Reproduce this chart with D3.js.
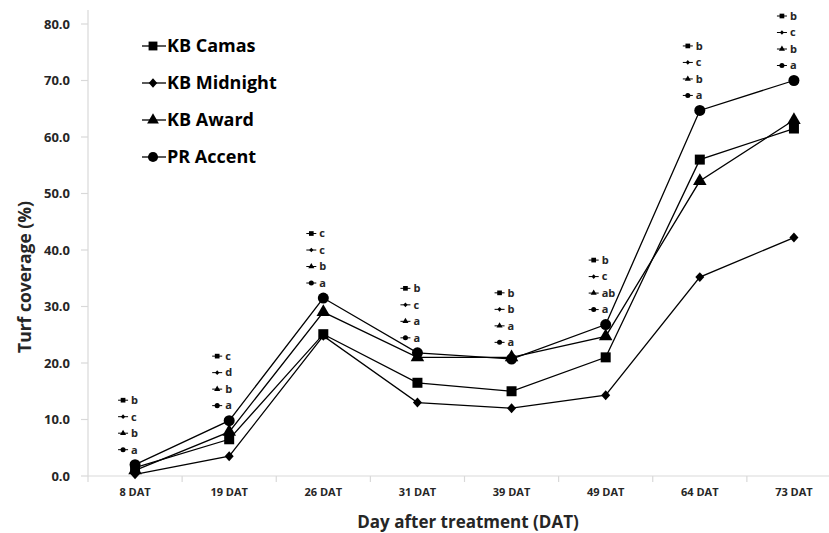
<!DOCTYPE html>
<html>
<head>
<meta charset="utf-8">
<script src="https://cdn.jsdelivr.net/npm/d3@7"></script>
<style>
  html, body { margin: 0; padding: 0; background: #fff; }
  svg { display: block; font-family: "Open Sans", "DejaVu Sans", sans-serif; }
</style>
</head>
<body>
<svg id="chart" width="829" height="533"></svg>
<script>
// ---- data ----
const categories = ["8 DAT", "19 DAT", "26 DAT", "31 DAT", "39 DAT", "49 DAT", "64 DAT", "73 DAT"];
const seriesNames = ["KB Camas", "KB Midnight", "KB Award", "PR Accent"];
const kbCamas    = [1.5, 6.5, 25.1, 16.5, 15.0, 21.0, 56.0, 61.5];
const kbMidnight = [0.3, 3.5, 24.8, 13.0, 12.0, 14.3, 35.2, 42.2];
const kbAward    = [1.0, 7.8, 29.0, 21.0, 21.0, 24.7, 52.2, 63.0];
const prAccent   = [2.0, 9.8, 31.5, 21.8, 20.7, 26.8, 64.7, 70.0];
// significance letters per category, in series order
const letters = [
  ["b", "c", "b", "a"],
  ["c", "d", "b", "a"],
  ["c", "c", "b", "a"],
  ["b", "c", "a", "a"],
  ["b", "b", "a", "a"],
  ["b", "c", "ab", "a"],
  ["b", "c", "b", "a"],
  ["b", "c", "b", "a"]
];
const yTicks = [0, 10, 20, 30, 40, 50, 60, 70, 80];
const seriesValues = [kbCamas, kbMidnight, kbAward, prAccent];

// ---- layout ----
const svg = d3.select("#chart");
const x = d3.scaleBand().domain(categories).range([88, 841]).padding(0);
const y = d3.scaleLinear().domain([0, 80]).range([476, 24]);
const cx = c => x(c) + x.bandwidth() / 2;

// wider diamond than d3's default
const symbolWideDiamond = {
  draw(context, size) {
    const r = Math.sqrt(size / 2);
    const w = r * 0.95, h = r * 1.05;
    context.moveTo(0, -h);
    context.lineTo(w, 0);
    context.lineTo(0, h);
    context.lineTo(-w, 0);
    context.closePath();
  }
};

const symbols = [d3.symbolSquare, symbolWideDiamond, d3.symbolTriangle, d3.symbolCircle];
const plotSizes = [100, 45, 80, 95];
const legendSizes = [78, 40, 60, 80];
const miniSizes = [22, 10, 16, 20];
const axisColor = "#d9d9d9";
const textColor = "#262626";

// ---- y axis ----
const yAxis = svg.append("g");
yAxis.append("line").attr("x1", 88).attr("x2", 88).attr("y1", 10).attr("y2", y(0))
  .attr("stroke", axisColor).attr("stroke-width", 1.2);
yAxis.selectAll("line.tick").data(yTicks).join("line").attr("class", "tick")
  .attr("x1", 81).attr("x2", 88).attr("y1", d => y(d)).attr("y2", d => y(d))
  .attr("stroke", axisColor).attr("stroke-width", 1.2);
yAxis.selectAll("text").data(yTicks).join("text")
  .attr("x", 70).attr("y", d => y(d)).attr("dy", "0.36em")
  .attr("text-anchor", "end").attr("font-size", 13).attr("font-weight", "bold")
  .attr("fill", textColor).text(d => d.toFixed(1));

// ---- x axis ----
const xAxis = svg.append("g");
xAxis.append("line").attr("x1", 88).attr("x2", 841).attr("y1", y(0)).attr("y2", y(0))
  .attr("stroke", axisColor).attr("stroke-width", 1.2);
xAxis.selectAll("line.tick").data(categories).join("line").attr("class", "tick")
  .attr("x1", d => x(d)).attr("x2", d => x(d)).attr("y1", y(0)).attr("y2", y(0) + 6)
  .attr("stroke", axisColor).attr("stroke-width", 1.2);
xAxis.selectAll("text").data(categories).join("text")
  .attr("x", d => cx(d)).attr("y", 496)
  .attr("text-anchor", "middle").attr("font-size", 11).attr("font-weight", "bold")
  .attr("fill", textColor).text(d => d);

// ---- titles ----
svg.append("text").attr("transform", "translate(31,277) rotate(-90)")
  .attr("text-anchor", "middle").attr("font-size", 17.5).attr("font-weight", "bold")
  .attr("fill", textColor).text("Turf coverage (%)");
svg.append("text").attr("x", 468).attr("y", 528)
  .attr("text-anchor", "middle").attr("font-size", 17).attr("font-weight", "bold")
  .attr("fill", textColor).text("Day after treatment (DAT)");

// ---- lines ----
const line = d3.line().x((d, i) => cx(categories[i])).y(d => y(d));
seriesValues.forEach(vals => {
  svg.append("path").attr("d", line(vals)).attr("fill", "none")
    .attr("stroke", "#000").attr("stroke-width", 1.3);
});
seriesValues.forEach((vals, s) => {
  svg.append("g").selectAll("path").data(vals).join("path")
    .attr("transform", (d, i) => `translate(${cx(categories[i])},${y(d)})`)
    .attr("d", d3.symbol().type(symbols[s]).size(plotSizes[s]))
    .attr("fill", "#000");
});

// ---- significance letter groups ----
categories.forEach((c, i) => {
  const maxV = d3.max(seriesValues, v => v[i]);
  const baseY = y(maxV) - 15;
  const mx = cx(c) - 12;
  letters[i].forEach((lt, s) => {
    const ry = baseY - (3 - s) * 16.5;
    const g = svg.append("g");
    g.append("line").attr("x1", mx - 5).attr("x2", mx + 5).attr("y1", ry).attr("y2", ry)
      .attr("stroke", "#000").attr("stroke-width", 1);
    g.append("path").attr("transform", `translate(${mx},${ry})`)
      .attr("d", d3.symbol().type(symbols[s]).size(miniSizes[s])).attr("fill", "#000");
    g.append("text").attr("x", mx + 8).attr("y", ry).attr("dy", "0.35em")
      .attr("font-size", 11).attr("font-weight", "bold").attr("fill", textColor).text(lt);
  });
});

// ---- legend ----
const legend = svg.append("g");
seriesNames.forEach((name, s) => {
  const ly = 46 + s * 37;
  legend.append("line").attr("x1", 142).attr("x2", 166).attr("y1", ly).attr("y2", ly)
    .attr("stroke", "#000").attr("stroke-width", 1.3);
  legend.append("path").attr("transform", `translate(153,${ly})`)
    .attr("d", d3.symbol().type(symbols[s]).size(legendSizes[s])).attr("fill", "#000");
  legend.append("text").attr("x", 167).attr("y", ly).attr("dy", "0.36em")
    .attr("font-size", 18).attr("font-weight", "bold").attr("fill", "#000").text(name);
});
</script>
</body>
</html>
